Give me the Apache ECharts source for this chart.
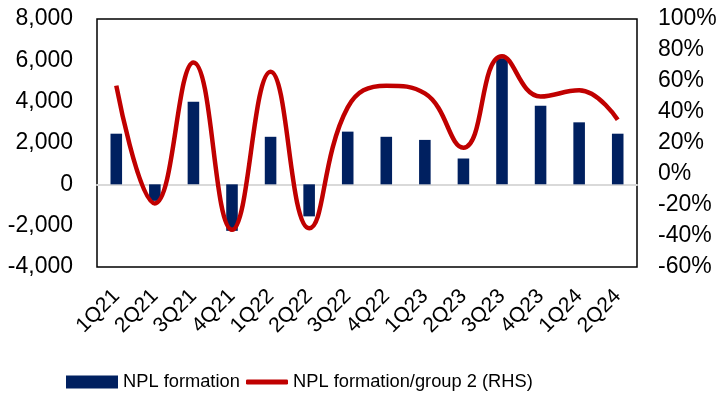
<!DOCTYPE html>
<html>
<head>
<meta charset="utf-8">
<script src="https://cdn.jsdelivr.net/npm/echarts@6/dist/echarts.min.js"></script>
<style>html,body{margin:0;padding:0;background:#fff;}#c{width:720px;height:397px;}</style>
</head>
<body>
<div id="c"></div>
<script>
var categories = ['1Q21','2Q21','3Q21','4Q21','1Q22','2Q22','3Q22','4Q22','1Q23','2Q23','3Q23','4Q23','1Q24','2Q24'];
var nplFormation = [2450, -800, 4000, -2250, 2300, -1550, 2550, 2300, 2150, 1250, 6100, 3800, 3000, 2450];
var nplFormationGroup2 = [57, -19, 72, -36, 66, -35, 43, 57, 52, 17, 76, 50, 54, 35];
var leftTicks = {min: -4000, max: 8000, interval: 2000};
var rightTicks = {min: -60, max: 100, interval: 20};

var font = 'Liberation Sans, Arial, sans-serif';
var chart = echarts.init(document.getElementById('c'), null, {renderer: 'canvas'});
chart.setOption({
  animation: false,
  backgroundColor: '#ffffff',
  grid: {left: 97, right: 83, top: 19, bottom: 130, show: true, borderColor: '#000', borderWidth: 1.5, containLabel: false},
  legend: [
    {data: [{name: 'NPL formation', icon: 'rect'}], left: 61, top: 368, itemWidth: 52, itemHeight: 13, itemGap: 5,
     textStyle: {fontFamily: font, fontSize: 18.3, color: '#000'}},
    {data: [{name: 'NPL formation/group 2 (RHS)', icon: 'roundRect'}], left: 241, top: 368, itemWidth: 42, itemHeight: 5,
     textStyle: {fontFamily: font, fontSize: 18.3, color: '#000'}}
  ],
  xAxis: {
    type: 'category', data: categories,
    axisLine: {onZero: true, onZeroAxisIndex: 0, lineStyle: {color: '#d9d9d9', width: 2}},
    axisTick: {show: false},
    axisLabel: {interval: 0, rotate: 45, margin: 26, color: '#000', fontFamily: font, fontSize: 21}
  },
  yAxis: [
    {type: 'value', min: leftTicks.min, max: leftTicks.max, interval: leftTicks.interval, position: 'left',
     splitLine: {show: false}, axisLine: {show: false}, axisTick: {show: false},
     axisLabel: {margin: 24, color: '#000', fontFamily: font, fontSize: 23,
       formatter: function (v) { return v.toLocaleString('en-US'); }}},
    {type: 'value', min: rightTicks.min, max: rightTicks.max, interval: rightTicks.interval, position: 'right',
     splitLine: {show: false}, axisLine: {show: false}, axisTick: {show: false},
     axisLabel: {margin: 21, color: '#000', fontFamily: font, fontSize: 23, formatter: '{value}%'}}
  ],
  series: [
    {name: 'NPL formation', type: 'bar', yAxisIndex: 0, data: nplFormation, barWidth: '30%',
     itemStyle: {color: '#002060'}},
    {name: 'NPL formation/group 2 (RHS)', type: 'line', yAxisIndex: 1, data: nplFormationGroup2,
     smooth: 0.45, symbol: 'none', lineStyle: {color: '#C00000', width: 4.5}, itemStyle: {color: '#C00000'}}
  ]
});
</script>
</body>
</html>
